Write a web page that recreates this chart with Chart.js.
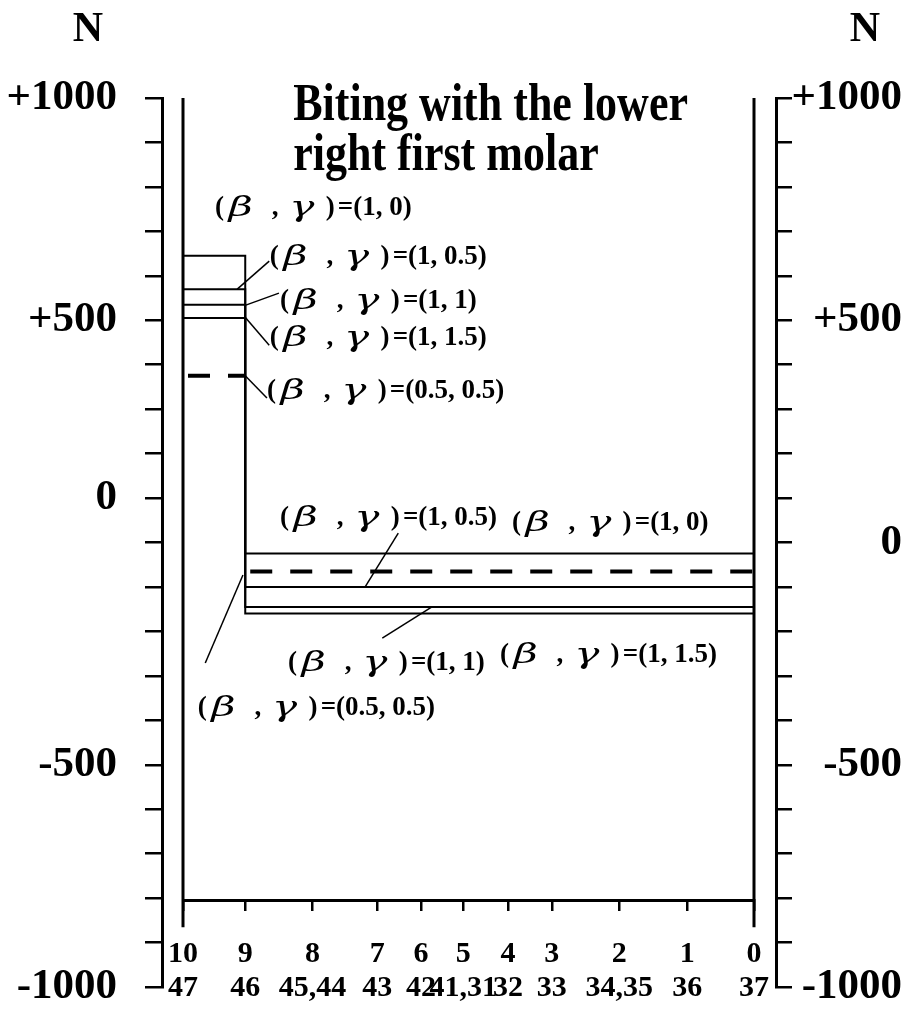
<!DOCTYPE html>
<html>
<head>
<meta charset="utf-8">
<script src="https://cdn.jsdelivr.net/npm/chart.js@4.4.1/dist/chart.umd.min.js"></script>
<style>
  html, body { margin: 0; padding: 0; background: #fff; }
  #wrap { width: 907px; height: 1012px; }
</style>
</head>
<body>
<div id="wrap"><canvas id="shear-chart"></canvas></div>
<script>
// teeth along the lower arch: 10 (tooth 47) ... 0 (tooth 37)
const toothNo  = ['10', '9', '8', '7', '6', '5', '4', '3', '2', '1', '0'];
const toothFdi = ['47', '46', '45,44', '43', '42', '41,31', '32', '33', '34,35', '36', '37'];
const toothPos = [0, 10.9, 22.7, 34.0, 41.7, 49.1, 56.9, 64.6, 76.4, 88.3, 100];

// force in N: [segment 10-9, segment 9-0]
const force_1_0   = [645, -25];
const force_1_05  = [570, -100];
const force_1_1   = [535, -145];
const force_1_15  = [505, -160];
const force_05_05 = [375, -65];

const leftTickLabels  = { '1000': '+1000', '500': '+500', '100': '0', '-500': '-500', '-1000': '-1000' };
const rightTickLabels = { '1000': '+1000', '500': '+500', '0': '0', '-500': '-500', '-1000': '-1000' };

const xAxisLevel = -805;
const serif = '"Liberation Serif", "Times New Roman", serif';

// labels with leader lines, in data units (x = tooth position, y = N)
const notes = [
  { val: '1, 0',     x: 5.6,  y: 752 },
  { val: '1, 0.5',   x: 15.2, y: 642,  from: [15.1, 633],  to: [9.5, 570] },
  { val: '1, 1',     x: 17.0, y: 543,  from: [16.8, 561],  to: [11.0, 534] },
  { val: '1, 1.5',   x: 15.2, y: 460,  from: [15.1, 444],  to: [11.0, 505] },
  { val: '0.5, 0.5', x: 14.7, y: 341,  from: [14.7, 325],  to: [10.9, 375] },
  { val: '1, 0.5',   x: 17.0, y: 55,   from: [37.7, 21],   to: [31.9, -100] },
  { val: '1, 0',     x: 57.6, y: 44 },
  { val: '1, 1',     x: 18.4, y: -271, from: [34.9, -215], to: [43.6, -145] },
  { val: '1, 1.5',   x: 55.5, y: -253 },
  { val: '0.5, 0.5', x: 2.6,  y: -372, from: [3.9, -271],  to: [10.5, -73] },
];

function stepData(vals) {
  return [
    { x: toothPos[0], y: vals[0] },
    { x: toothPos[1], y: vals[0] },
    { x: toothPos[1], y: vals[1] },
    { x: toothPos[10], y: vals[1] },
  ];
}

function series(vals, dashed) {
  const ds = {
    data: stepData(vals),
    borderColor: '#000',
    borderWidth: 2,
    pointRadius: 0,
    fill: false,
  };
  if (dashed) {
    ds.borderWidth = 4;
    ds.borderDash = [22, 18];
    ds.borderDashOffset = -5;
    // the drop at tooth 9 is hidden behind the solid lines
    ds.segment = { borderColor: c => (c.p0DataIndex === 1 ? 'rgba(0,0,0,0)' : '#000') };
  }
  return ds;
}

function drawNote(ctx, x, y, val) {
  const size = 27;
  const bold = `bold ${size}px ${serif}`;
  const greek = 'italic 29px "DejaVu Serif", serif';
  const parts = [
    ['(', bold, 0], ['\u03B2', greek, 0.5], [',', bold, 2.1],
    ['\u03B3', greek, 2.75], [')', bold, 4.1], ['=(' + val + ')', bold, 4.55],
  ];
  ctx.textAlign = 'left';
  ctx.textBaseline = 'middle';
  parts.forEach(([t, f, dx]) => {
    ctx.font = f;
    if (f === greek) {
      // the greek letters are wide slanted glyphs in the figure
      ctx.save();
      ctx.translate(x + dx * size, y + 1);
      ctx.scale(1.45, 0.95);
      ctx.fillText(t, 0, 0);
      ctx.restore();
    } else {
      ctx.fillText(t, x + dx * size, y);
    }
  });
}

// move the two value axes off the frame, as in the figure
const shiftAxes = {
  id: 'shiftAxes',
  afterLayout(chart) {
    const l = chart.scales.y, r = chart.scales.y2;
    l.left -= 21; l.right -= 21;
    r.left += 22; r.right -= 5;
  }
};

const decorations = {
  id: 'decorations',
  afterDraw(chart) {
    const ctx = chart.ctx;
    const xs = chart.scales.x, ys = chart.scales.y;
    const px = v => xs.getPixelForValue(v);
    const py = v => ys.getPixelForValue(v);
    ctx.save();
    ctx.strokeStyle = '#000';
    ctx.fillStyle = '#000';

    // frame rails at tooth 10 and tooth 0
    ctx.lineWidth = 3;
    [toothPos[0], toothPos[10]].forEach(p => {
      ctx.beginPath();
      ctx.moveTo(px(p), py(1000));
      ctx.lineTo(px(p), py(xAxisLevel) + 27);
      ctx.stroke();
    });

    // unit labels
    ctx.font = `bold 42px ${serif}`;
    ctx.textAlign = 'center';
    ctx.textBaseline = 'middle';
    ctx.fillText('N', chart.scales.y.right - 74, 30);
    ctx.fillText('N', chart.scales.y2.left + 89, 30);

    // title inside the plot
    ctx.font = `bold 44px ${serif}`;
    ctx.textAlign = 'left';
    ctx.textBaseline = 'alphabetic';
    [['Biting with the lower', 950], ['right first molar', 838]].forEach(([t, v]) => {
      ctx.save();
      ctx.translate(px(19.3), py(v));
      ctx.scale(1, 1.18);
      ctx.fillText(t, 0, 0);
      ctx.restore();
    });

    // annotations
    ctx.lineWidth = 1.5;
    notes.forEach(n => {
      if (n.from) {
        ctx.beginPath();
        ctx.moveTo(px(n.from[0]), py(n.from[1]));
        ctx.lineTo(px(n.to[0]), py(n.to[1]));
        ctx.stroke();
      }
      drawNote(ctx, px(n.x), py(n.y), n.val);
    });
    ctx.restore();
  }
};

const yTickFont = { family: serif, size: 43, weight: 'bold', lineHeight: 1 };

function fitValueAxis(width) {
  return s => {
    s.width = width;
    s.paddingTop = 0;
    s.paddingBottom = 0;
  };
}

new Chart(document.getElementById('shear-chart'), {
  type: 'line',
  data: {
    datasets: [
      series(force_1_0),
      series(force_1_05),
      series(force_1_1),
      series(force_1_15),
      series(force_05_05, true),
    ]
  },
  options: {
    responsive: true,
    maintainAspectRatio: false,
    animation: false,
    events: [],
    layout: { padding: { top: 98, bottom: 25, left: 0, right: 0 } },
    plugins: { legend: { display: false }, tooltip: { enabled: false } },
    scales: {
      x: {
        type: 'linear',
        min: 0,
        max: 100,
        position: { y: xAxisLevel },
        border: { color: '#000', width: 3 },
        grid: { drawOnChartArea: false, color: '#000', lineWidth: 2.5, tickLength: 9 },
        afterBuildTicks: s => { s.ticks = toothPos.map(v => ({ value: v })); },
        ticks: {
          autoSkip: false,
          maxRotation: 0,
          padding: 28,
          color: '#000',
          font: { family: serif, size: 30, weight: 'bold', lineHeight: 1.13 },
          callback: (v, i) => [toothNo[i], toothFdi[i]],
        },
      },
      y: {
        position: 'left',
        min: -1000,
        max: 1000,
        border: { color: '#000', width: 3 },
        grid: { drawOnChartArea: false, color: '#000', lineWidth: 2.5, tickLength: 17 },
        afterFit: fitValueAxis(183),
        ticks: {
          stepSize: 100,
          autoSkip: false,
          padding: 28,
          color: '#000',
          font: yTickFont,
          callback: v => leftTickLabels[v] ?? '',
        },
      },
      y2: {
        position: 'right',
        min: -1000,
        max: 1000,
        border: { color: '#000', width: 3 },
        grid: { drawOnChartArea: false, color: '#000', lineWidth: 2.5, tickLength: 16 },
        afterFit: fitValueAxis(153),
        ticks: {
          stepSize: 100,
          autoSkip: false,
          padding: 0,
          crossAlign: 'far',
          color: '#000',
          font: yTickFont,
          callback: v => rightTickLabels[v] ?? '',
        },
      },
    },
  },
  plugins: [shiftAxes, decorations],
});
</script>
</body>
</html>
